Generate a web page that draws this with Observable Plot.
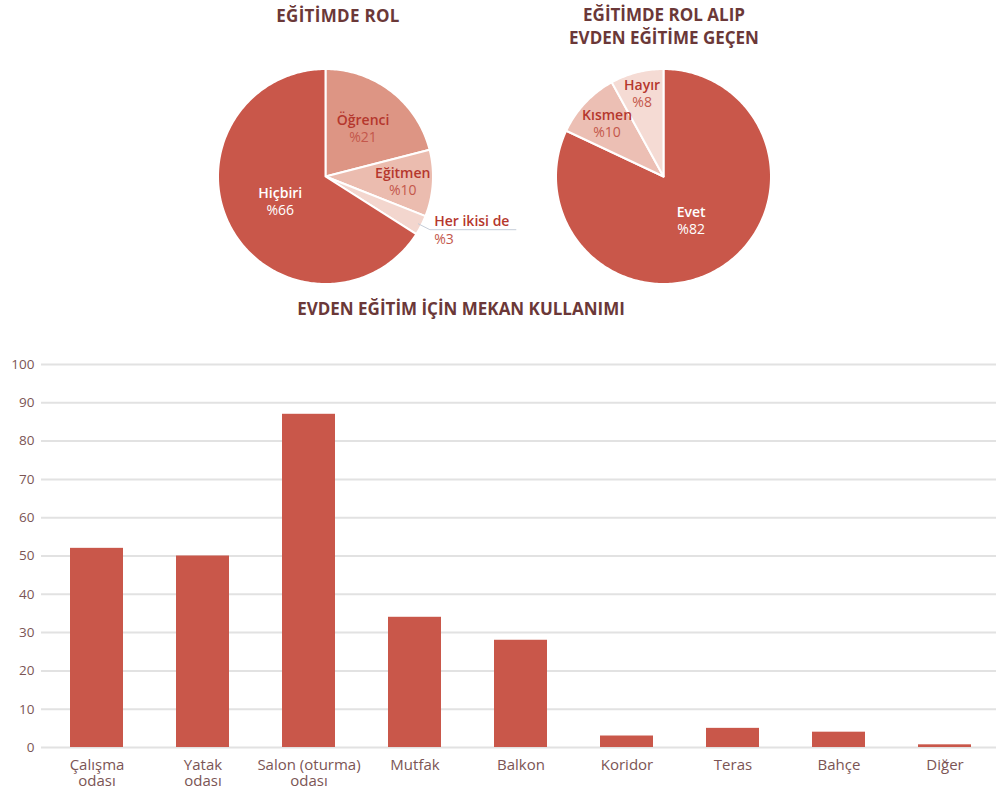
<!DOCTYPE html>
<html><head><meta charset="utf-8">
<script src="https://cdn.jsdelivr.net/npm/d3@7"></script>
<script src="https://cdn.jsdelivr.net/npm/@observablehq/plot@0.6"></script>
<style>
body{margin:0;background:#fff;font-family:"Open Sans",sans-serif;}
#wrap{position:relative;width:996px;height:796px;overflow:hidden;}
.title{position:absolute;font-weight:700;font-size:17px;color:#6b3838;text-align:center;line-height:23px;white-space:nowrap;}
.abs{position:absolute;}
</style></head><body>
<div id="wrap">
 <div class="title" style="left:238px;top:4px;width:200px;letter-spacing:0.3px">EĞİTİMDE ROL</div>
 <div class="title" style="left:564px;top:3px;width:200px">EĞİTİMDE ROL ALIP<br>EVDEN EĞİTİME GEÇEN</div>
 <div id="pie1" class="abs" style="left:130px;top:56px"></div>
 <div id="pie2" class="abs" style="left:530px;top:56px"></div>
 <div class="title" style="left:261px;top:297px;width:400px">EVDEN EĞİTİM İÇİN MEKAN KULLANIMI</div>
 <div id="bar" class="abs" style="left:0;top:330px"></div>
</div>
<script>
// ---- data ----
const roleLabels = ["Öğrenci", "Eğitmen", "Her ikisi de", "Hiçbiri"];
const roleValues = [21, 10, 3, 66];
const switchLabels = ["Evet", "Kısmen", "Hayır"];
const switchValues = [82, 10, 8];
const rooms = ["Çalışma\nodası", "Yatak\nodası", "Salon (oturma)\nodası", "Mutfak", "Balkon", "Koridor", "Teras", "Bahçe", "Diğer"];
const roomValues = [52, 50, 87, 34, 28, 3, 5, 4, 0.7];
const yTicks = [0, 10, 20, 30, 40, 50, 60, 70, 80, 90, 100];

// ---- styles ----
const RED = "#c9574a";
const roleColors = ["#dd9584", "#ebbcaf", "#f3d6ce", RED];
const switchColors = [RED, "#ecbfb4", "#f5dbd4"];
const NAME_DARK = "#b5372d", PCT_DARK = "#c4574b";

function pieSlices(labels, values, colors) {
  const total = d3.sum(values);
  let acc = 0;
  return labels.map((label, i) => {
    const a0 = acc / total * 2 * Math.PI;
    acc += values[i];
    const a1 = acc / total * 2 * Math.PI;
    const m = (a0 + a1) / 2;
    const v = values[i];
    const frac = v >= 60 ? 0.48 : v >= 15 ? 0.57 : v >= 9 ? 0.72 : 0.8;
    const outside = v < 5;
    const pts = [{x: 0, y: 0}];
    const n = Math.max(2, Math.ceil((a1 - a0) / (Math.PI / 180)));
    for (let k = 0; k <= n; k++) {
      const a = a0 + (a1 - a0) * k / n;
      pts.push({x: Math.sin(a), y: Math.cos(a)});
    }
    const dark = colors[i] === RED;
    const elbow = {x: 1.09 * Math.sin(m), y: 1.09 * Math.cos(m)};
    return {label, value: v, a0, a1, m, pts, color: colors[i], outside,
      lx: outside ? elbow.x + 0.04 : frac * Math.sin(m),
      ly: outside ? elbow.y : frac * Math.cos(m),
      nameColor: dark ? "white" : NAME_DARK,
      pctColor: dark ? "white" : PCT_DARK,
      leader: outside ? [{x: 0.97 * Math.sin(m), y: 0.97 * Math.cos(m)}, elbow, {x: elbow.x + 0.8, y: elbow.y}] : null};
  });
}

function piePlot(labels, values, colors, w, h, r) {
  const slices = pieSlices(labels, values, colors);
  const inside = slices.filter(s => !s.outside);
  const outside = slices.filter(s => s.outside);
  const marks = [];
  for (const s of slices) {
    marks.push(Plot.line(s.pts, {x: "x", y: "y", fill: s.color, stroke: "white", strokeWidth: 2, curve: "linear-closed"}));
  }
  for (const s of outside) {
    marks.push(Plot.line(s.leader, {x: "x", y: "y", stroke: "#c6cdd8", strokeWidth: 1}));
  }
  marks.push(
    Plot.text(inside, {x: "lx", y: "ly", text: "label", fill: d => d.nameColor, dy: -8, fontWeight: 600, fontSize: 14}),
    Plot.text(inside, {x: "lx", y: "ly", text: d => "%" + d.value, fill: d => d.pctColor, dy: 9, fontSize: 14}),
    Plot.text(outside, {x: "lx", y: "ly", text: "label", fill: d => d.nameColor, dy: -8, fontWeight: 600, fontSize: 14, textAnchor: "start"}),
    Plot.text(outside, {x: "lx", y: "ly", text: d => "%" + d.value, fill: d => d.pctColor, dy: 10, fontSize: 14, textAnchor: "start"})
  );
  return Plot.plot({
    width: w, height: h, margin: 0,
    x: {domain: [-w / 2 / r, w / 2 / r], axis: null},
    y: {domain: [-h / 2 / r, h / 2 / r], axis: null},
    style: {fontFamily: "Open Sans", background: "transparent", overflow: "visible"},
    marks
  });
}

document.getElementById("pie1").append(piePlot(roleLabels, roleValues, roleColors, 390, 240, 107.5));
document.getElementById("pie2").append(piePlot(switchLabels, switchValues, switchColors, 266, 240, 107.5));

const barData = rooms.map((room, i) => ({room, value: roomValues[i]}));
const bar = Plot.plot({
  width: 996, height: 466,
  marginLeft: 41, marginRight: 0, marginTop: 34, marginBottom: 49,
  style: {fontFamily: "Open Sans", fontSize: "14px", color: "#7b5555", background: "transparent"},
  x: {domain: rooms, range: [40.5, 999.9], paddingInner: 0.5, paddingOuter: 0.25, label: null},
  y: {domain: [0, 100], label: null},
  marks: [
    Plot.gridY(yTicks, {stroke: "#e2e2e2", strokeOpacity: 1, strokeWidth: 2}),
    Plot.barY(barData, {x: "room", y: "value", fill: RED}),
    Plot.axisY(yTicks, {tickSize: 0, tickPadding: 7, label: null, fill: "#7b5555", fontSize: 13.5}),
    Plot.axisX({tickSize: 0, tickPadding: 11, lineHeight: 1.08, label: null, fill: "#7b5555", fontSize: 15})
  ]
});
document.getElementById("bar").append(bar);
</script>
</body></html>
